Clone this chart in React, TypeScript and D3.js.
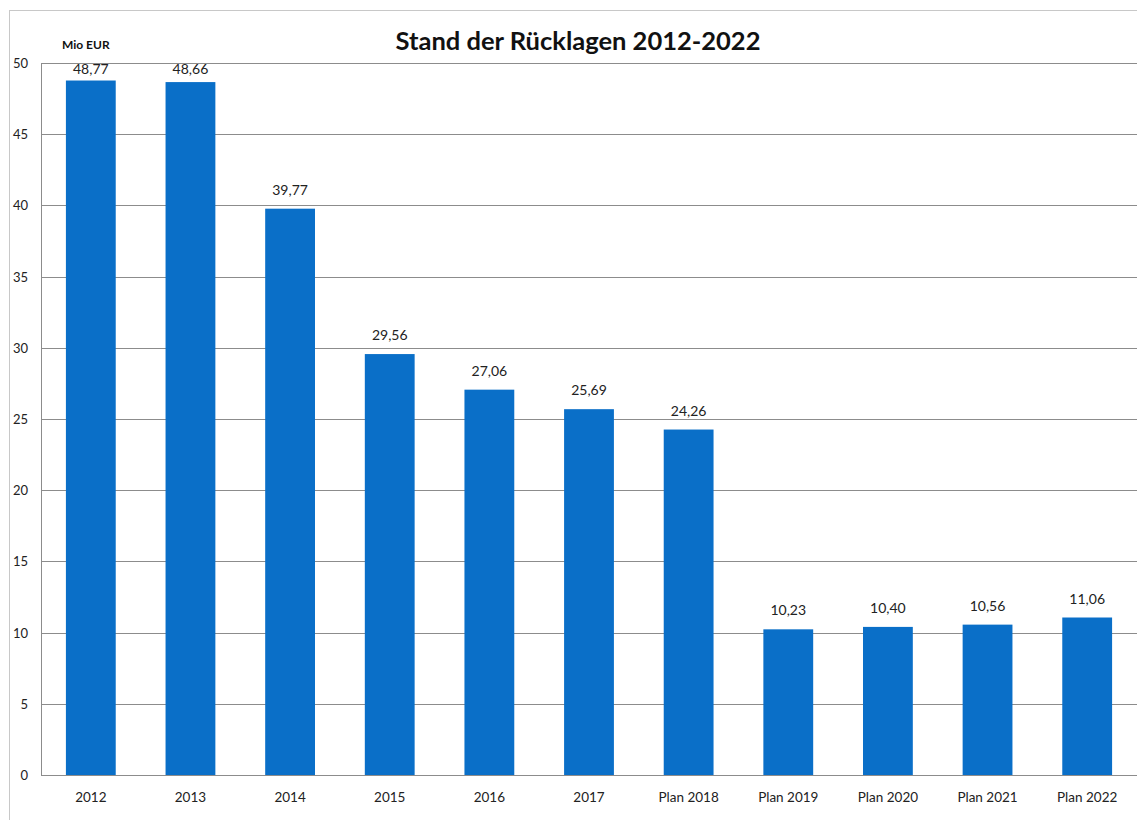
import React, { useEffect, useRef } from "react";
import * as d3 from "d3";

const categories = ["2012", "2013", "2014", "2015", "2016", "2017", "Plan 2018", "Plan 2019", "Plan 2020", "Plan 2021", "Plan 2022"];
const values = [48.77, 48.66, 39.77, 29.56, 27.06, 25.69, 24.26, 10.23, 10.4, 10.56, 11.06];
const yTicks = [0, 5, 10, 15, 20, 25, 30, 35, 40, 45, 50];

const W = 1137, H = 820;
const FONT = "Lato, 'Open Sans', sans-serif";

export default function App() {
  const ref = useRef<SVGSVGElement>(null);

  useEffect(() => {
    const svg = d3.select(ref.current);
    svg.selectAll("*").remove();

    const left = 41, right = 1137, top = 63, bottom = 775;

    // outer frame
    svg.append("rect")
      .attr("x", 9.5).attr("y", 10.5)
      .attr("width", W).attr("height", H)
      .attr("fill", "#fff").attr("stroke", "#c8c8c8");

    const x = d3.scaleBand().domain(categories).range([left, right]).paddingInner(0.5).paddingOuter(0.25);
    const y = d3.scaleLinear().domain([0, 50]).range([bottom, top]);

    // grid
    svg.append("g").selectAll("line")
      .data(yTicks)
      .enter().append("line")
      .attr("x1", left).attr("x2", right)
      .attr("y1", d => Math.round(y(d)) + 0.5).attr("y2", d => Math.round(y(d)) + 0.5)
      .attr("stroke", "#8c8c8c").attr("stroke-width", 1);

    svg.append("line")
      .attr("x1", left + 0.5).attr("x2", left + 0.5)
      .attr("y1", top).attr("y2", bottom)
      .attr("stroke", "#8c8c8c");

    // y labels
    svg.append("g").selectAll("text")
      .data(yTicks)
      .enter().append("text")
      .attr("x", 28).attr("y", d => y(d) + 5)
      .attr("text-anchor", "end")
      .style("font-family", FONT).style("font-size", "13px").attr("fill", "#222")
      .text(d => d);

    // bars
    svg.append("g").selectAll("rect")
      .data(values)
      .enter().append("rect")
      .attr("x", (d, i) => x(categories[i])!)
      .attr("width", x.bandwidth())
      .attr("y", d => y(d))
      .attr("height", d => bottom - y(d))
      .attr("fill", "#0a6fc8");

    // value labels (kept inside the top of the plot)
    svg.append("g").selectAll("text")
      .data(values)
      .enter().append("text")
      .attr("x", (d, i) => x(categories[i])! + x.bandwidth() / 2)
      .attr("y", d => Math.max(y(d) - 14, 74))
      .attr("text-anchor", "middle")
      .style("font-family", FONT).style("font-size", "14px").attr("fill", "#222")
      .text(d => d.toFixed(2).replace(".", ","));

    // x labels
    svg.append("g").selectAll("text")
      .data(categories)
      .enter().append("text")
      .attr("x", d => x(d)! + x.bandwidth() / 2)
      .attr("y", bottom + 27)
      .attr("text-anchor", "middle")
      .style("font-family", FONT).style("font-size", "13.5px").attr("fill", "#222")
      .text(d => d);

    // title
    svg.append("text")
      .attr("x", 578).attr("y", 50)
      .attr("text-anchor", "middle")
      .style("font-family", FONT).style("font-size", "25.5px").style("font-weight", "bold").attr("fill", "#111")
      .text("Stand der Rücklagen 2012-2022");

    svg.append("text")
      .attr("x", 62).attr("y", 49)
      .style("font-family", FONT).style("font-size", "12px").style("font-weight", "bold").attr("fill", "#111")
      .text("Mio EUR");
  }, []);

  return (
    <svg ref={ref} width={W} height={H} style={{ position: "absolute", left: 0, top: 0, background: "#fff" }} />
  );
}
